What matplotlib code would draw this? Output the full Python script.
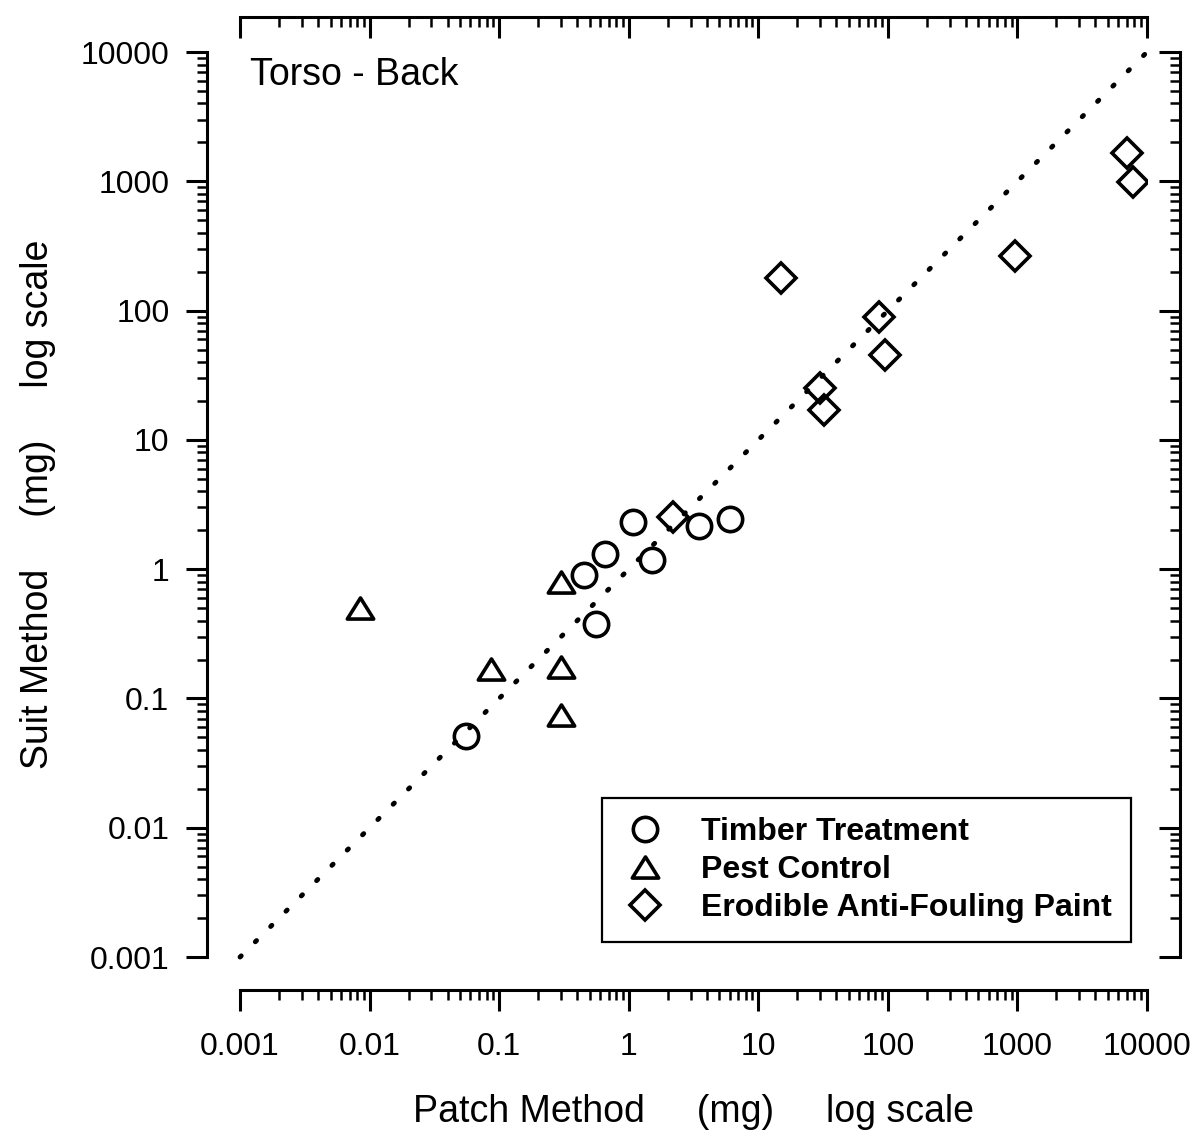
import matplotlib
matplotlib.use('Agg')
import matplotlib.pyplot as plt
from matplotlib.path import Path
from matplotlib.ticker import LogLocator, FuncFormatter, NullFormatter

plt.rcParams['font.family'] = ['Liberation Sans', 'DejaVu Sans']

# exposure estimates (mg), patch method vs whole-suit method
timber_x = [0.055, 0.45, 0.66, 0.56, 1.08, 1.5, 3.5, 6.0]
timber_y = [0.051, 0.90, 1.30, 0.38, 2.30, 1.18, 2.16, 2.45]

pest_x = [0.0085, 0.087, 0.30, 0.30, 0.30]
pest_y = [0.50, 0.17, 0.80, 0.175, 0.074]

paint_x = [2.2, 15, 85, 95, 30, 32, 960, 7000, 7800]
paint_y = [2.55, 180, 90, 45, 25, 17, 265, 1650, 990]

line_xy = [0.001, 10000]

# wider-than-tall open triangle
tri = Path([(-1, -0.8), (1, -0.8), (0, 0.8), (-1, -0.8)], closed=True)

fig = plt.figure(figsize=(11.9, 11.31), dpi=100)
pos = [0.2017, 0.1538, 0.7622, 0.8002]
ax = fig.add_axes(pos)
ax.set_xscale('log')
ax.set_yscale('log')
ax.set_xlim(0.001, 10000)
ax.set_ylim(0.001, 10000)

ax.plot(line_xy, line_xy, color='black', lw=3.5, linestyle=(0, (0.35, 4.1)),
        dash_capstyle='round', clip_on=False, zorder=1)

mk = dict(ls='none', mfc='none', mec='black', mew=2.6, zorder=3)
ax.plot(timber_x, timber_y, marker='o', ms=17.5, label='Timber Treatment', **mk)
ax.plot(pest_x, pest_y, marker=tri, ms=19, label='Pest Control', **mk)
ax.plot(paint_x, paint_y, marker='D', ms=15, label='Erodible Anti-Fouling Paint', **mk)

for a in (ax.xaxis, ax.yaxis):
    a.set_major_locator(LogLocator(base=10, numticks=20))
    a.set_minor_locator(LogLocator(base=10, subs=range(2, 10), numticks=100))
    a.set_major_formatter(FuncFormatter(lambda v, p: f'{v:g}'))
    a.set_minor_formatter(NullFormatter())

for s in ('top', 'right'):
    ax.spines[s].set_visible(False)
for s in ('left', 'bottom'):
    ax.spines[s].set_position(('outward', 23.8))
    ax.spines[s].set_linewidth(2.2)
ax.tick_params(which='major', length=15, width=2.2, direction='out', labelsize=23)
ax.tick_params(which='minor', length=7.5, width=1.8, direction='out')
ax.tick_params(axis='x', which='major', pad=15)
ax.tick_params(axis='y', which='major', pad=12)

# top and right axes with inward ticks
ax2 = fig.add_axes(pos, sharex=ax, sharey=ax)
ax2.patch.set_visible(False)
for s in ('left', 'bottom'):
    ax2.spines[s].set_visible(False)
ax2.spines['top'].set_position(('outward', 25.2))
ax2.spines['right'].set_position(('outward', 23.8))
for s in ('top', 'right'):
    ax2.spines[s].set_linewidth(2.2)
ax2.tick_params(which='both', direction='in', top=True, right=True, bottom=False, left=False,
                labeltop=False, labelright=False, labelbottom=False, labelleft=False)
ax2.tick_params(which='major', length=15, width=2.2)
ax2.tick_params(which='minor', length=7.5, width=1.8)

ax.text(0.011, 0.995, 'Torso - Back', transform=ax.transAxes, fontsize=27,
        va='top', ha='left')

ax.set_xlabel('Patch Method     (mg)     log scale', fontsize=27, labelpad=23)
ax.set_ylabel('Suit Method     (mg)     log scale', fontsize=27, labelpad=18)

leg = ax.legend(loc='lower right', bbox_to_anchor=(0.9824, 0.0166), borderaxespad=0,
                prop={'weight': 'bold', 'size': 23}, fancybox=False, edgecolor='black',
                framealpha=1, handlelength=1.5, handletextpad=1.0, labelspacing=0.25,
                borderpad=0.6, markerscale=1.0)
leg.get_frame().set_linewidth(1.6)

fig.savefig('out.png', dpi=100)
